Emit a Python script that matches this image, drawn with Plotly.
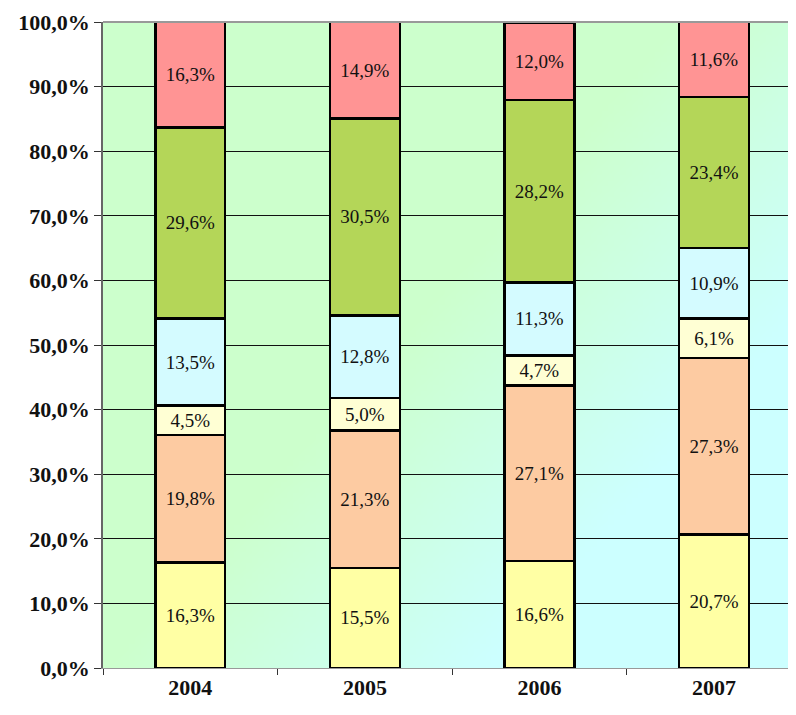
import base64, struct, zlib
import plotly.graph_objects as go

years = ["2004", "2005", "2006", "2007"]
s_yellow = [16.3, 15.5, 16.6, 20.7]
s_orange = [19.8, 21.3, 27.1, 27.3]
s_ltyellow = [4.5, 5.0, 4.7, 6.1]
s_cyan = [13.5, 12.8, 11.3, 10.9]
s_green = [29.6, 30.5, 28.2, 23.4]
s_red = [16.3, 14.9, 12.0, 11.6]

series = [
    (s_yellow, "#ffffa4"),
    (s_orange, "#fdcba2"),
    (s_ltyellow, "#ffffd4"),
    (s_cyan, "#d4fbff"),
    (s_green, "#b4d658"),
    (s_red, "#ff9494"),
]


def gradient_png(w=120, h=120):
    c1 = (0xCC, 0xFF, 0xCC)
    c2 = (0xCC, 0xFF, 0xFF)
    raw = b""
    for j in range(h):
        row = b"\x00"
        for i in range(w):
            t = (i / (w - 1) * 0.55 + j / (h - 1) * 0.45)
            t = min(max((t - 0.45) / 0.3, 0), 1)
            px = tuple(int(round(a + (b - a) * t)) for a, b in zip(c1, c2))
            row += bytes(px)
        raw += row

    def chunk(tag, data):
        c = struct.pack(">I", len(data)) + tag + data
        return c + struct.pack(">I", zlib.crc32(tag + data) & 0xFFFFFFFF)

    png = b"\x89PNG\r\n\x1a\n"
    png += chunk(b"IHDR", struct.pack(">IIBBBBB", w, h, 8, 2, 0, 0, 0))
    png += chunk(b"IDAT", zlib.compress(raw, 9))
    png += chunk(b"IEND", b"")
    return "data:image/png;base64," + base64.b64encode(png).decode()


fig = go.Figure()
for vals, col in series:
    fig.add_trace(go.Bar(
        x=years, y=vals,
        marker=dict(color=col, line=dict(color="black", width=2.5)),
        texttemplate="%{y:.1f}%",
        textposition="inside",
        insidetextanchor="middle",
        textangle=0,
        constraintext="none",
        textfont=dict(family="Liberation Serif", size=19, color="#111111"),
        width=0.4,
        showlegend=False,
        hoverinfo="skip",
    ))

fig.add_layout_image(dict(
    source=gradient_png(), xref="paper", yref="paper", x=0, y=1,
    sizex=1, sizey=1, sizing="stretch", layer="below",
))

fig.update_layout(
    barmode="stack",
    width=796, height=707,
    margin=dict(l=95, r=0, t=14, b=47),
    paper_bgcolor="white",
    plot_bgcolor="#ccffcc",
    separators=",.",
    font=dict(family="Liberation Serif", color="#111111"),
    xaxis=dict(
        type="category", range=[-0.5, 3.515],
        showgrid=False, ticks="outside", ticklen=6, tickcolor="#333",
        tickson="boundaries",
        tickfont=dict(family="Liberation Serif", size=22, color="#111111", weight="bold"),
        showline=True, linecolor="#999999", linewidth=1,
    ),
    yaxis=dict(
        range=[0, 100], tickvals=list(range(0, 101, 10)),
        ticktext=[f"{v},0%" for v in range(0, 101, 10)],
        showgrid=True, gridcolor="#111111", gridwidth=1,
        ticks="outside", ticklen=7, tickcolor="#333",
        tickfont=dict(family="Liberation Serif", size=22, color="#111111", weight="bold"),
        showline=True, linecolor="#666666", linewidth=1.5,
        mirror=False, zeroline=False,
    ),
)
fig.add_shape(type="line", xref="paper", yref="paper", x0=0, x1=1, y0=1, y1=1,
              line=dict(color="#999999", width=2))

fig.write_html("out.html")
